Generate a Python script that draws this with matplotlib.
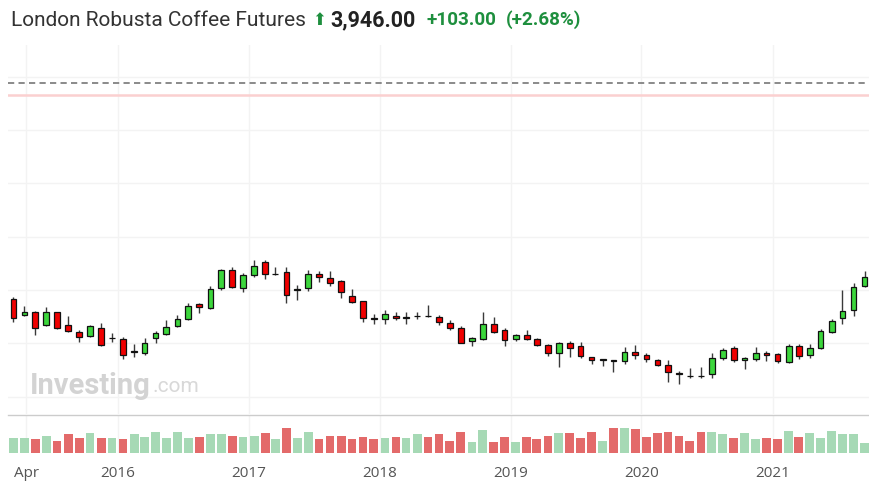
import numpy as np
import pandas as pd
import matplotlib
matplotlib.use("Agg")
import matplotlib.pyplot as plt
import matplotlib.dates as mdates

# monthly candles, Mar 2015 .. Sep 2021
months = pd.date_range("2015-03-01", periods=79, freq="MS") + pd.Timedelta(days=14)

opens = [3780, 3665, 3685, 3590, 3683, 3585, 3537, 3507, 3567, 3488,
         3482, 3385, 3380, 3490, 3518, 3580, 3630, 3747, 3713, 3865,
         3998, 3865, 3960, 4058, 3968, 3987, 3853, 3867, 3968, 3942,
         3917, 3803, 3765, 3639, 3630, 3657, 3643, 3653, 3657, 3650,
         3602, 3567, 3465, 3480, 3593, 3548, 3480, 3512, 3482, 3435,
         3380, 3455, 3428, 3345, 3328, 3325, 3317, 3383, 3362, 3325,
         3290, 3224, 3207, 3206, 3218, 3342, 3417, 3325, 3332, 3380,
         3368, 3308, 3432, 3360, 3417, 3535, 3638, 3702, 3880]
highs = [3795, 3732, 3692, 3725, 3687, 3657, 3548, 3587, 3602, 3525,
         3495, 3443, 3488, 3545, 3623, 3660, 3752, 3752, 3878, 4010,
         4020, 3975, 4075, 4075, 4025, 4025, 3888, 4000, 3992, 3992,
         3922, 3855, 3770, 3668, 3698, 3687, 3687, 3687, 3735, 3660,
         3623, 3582, 3497, 3687, 3645, 3563, 3518, 3550, 3492, 3447,
         3458, 3465, 3458, 3350, 3335, 3327, 3420, 3440, 3378, 3332,
         3327, 3245, 3263, 3272, 3375, 3417, 3430, 3345, 3420, 3392,
         3375, 3447, 3443, 3447, 3555, 3632, 3852, 3905, 3995]
lows = [3608, 3653, 3512, 3582, 3560, 3535, 3460, 3497, 3432, 3458,
        3330, 3345, 3360, 3450, 3512, 3572, 3623, 3675, 3708, 3850,
        3863, 3837, 3950, 3932, 3962, 3755, 3775, 3845, 3912, 3882,
        3792, 3755, 3612, 3597, 3597, 3625, 3597, 3635, 3650, 3587,
        3552, 3450, 3430, 3475, 3530, 3432, 3467, 3475, 3432, 3357,
        3275, 3350, 3342, 3295, 3278, 3233, 3295, 3330, 3308, 3282,
        3158, 3147, 3188, 3188, 3192, 3323, 3310, 3260, 3317, 3317,
        3305, 3302, 3330, 3342, 3408, 3525, 3595, 3655, 3875]
closes = [3638, 3685, 3565, 3683, 3565, 3545, 3500, 3580, 3437, 3492,
          3362, 3389, 3455, 3527, 3575, 3632, 3732, 3720, 3860, 3998,
          3873, 3960, 4032, 3968, 3972, 3812, 3857, 3970, 3950, 3905,
          3833, 3758, 3637, 3635, 3668, 3637, 3647, 3657, 3652, 3612,
          3567, 3455, 3492, 3593, 3537, 3473, 3512, 3480, 3437, 3380,
          3452, 3417, 3355, 3323, 3332, 3321, 3383, 3362, 3335, 3288,
          3233, 3220, 3205, 3203, 3342, 3398, 3325, 3340, 3380, 3360,
          3315, 3432, 3353, 3417, 3540, 3620, 3695, 3875, 3946]
volume = [15000, 15000, 14000, 17600, 12600, 19000, 15000, 20000, 15000, 15000,
          14000, 19000, 16000, 21000, 15000, 21000, 15000, 16000, 19000, 19000,
          17600, 16000, 17600, 20000, 14000, 25000, 15000, 21000, 14000, 17600,
          17600, 14000, 16000, 14000, 15000, 16000, 15000, 19000, 16000, 19000,
          12600, 21000, 11000, 23300, 11000, 16000, 11000, 16000, 14000, 17600,
          20000, 20000, 15000, 21000, 12600, 25000, 25000, 24000, 16000, 20000,
          21000, 17600, 12600, 21000, 21000, 19000, 15000, 20000, 14000, 15000,
          14000, 22300, 16000, 20000, 15000, 22300, 19000, 19000, 10000]

tick_dates = ["2015-04-20", "2016-01-01", "2017-01-01", "2018-01-01",
              "2019-01-01", "2020-01-01", "2021-01-01"]
tick_labels = ["Apr", "2016", "2017", "2018", "2019", "2020", "2021"]

last_price = "3,946.00"
change = "+103.00"
change_pct = "(+2.68%)"
dashed_level = 5402
red_level = 5312

UP = "#3cd63c"
DOWN = "#f00000"
VOL_UP = "#a6d9b5"
VOL_DOWN = "#e36a6a"
GRID = "#f3f3f3"
GREEN_TXT = "#1e8f3e"

x = mdates.date2num(months.to_pydatetime())
o = np.array(opens, float)
h = np.array(highs, float)
l = np.array(lows, float)
c = np.array(closes, float)
v = np.array(volume, float)

fig = plt.figure(figsize=(8.7, 4.92), dpi=100)
W, H = 870, 492
ax = fig.add_axes([8 / W, 1 - 414 / H, 862 / W, 369 / H])
axv = fig.add_axes([8 / W, 1 - 453.3 / H, 862 / W, 38.3 / H], sharex=ax)

# candles
body_col = [UP if cc >= oo else DOWN for oo, cc in zip(o, c)]
ax.vlines(x, l, h, color="#3a3a3a", lw=1.0, zorder=2)
body_h = np.maximum(np.abs(c - o), 3)
ax.bar(x, body_h, bottom=np.minimum(o, c), width=16, color=body_col,
       edgecolor="#111111", linewidth=0.9, zorder=3)

ax.axhline(dashed_level, color="#8a8a8a", lw=1.4, ls=(0, (3.2, 2.2)), zorder=4)
ax.axhline(red_level, color="#fbd0d0", lw=1.8, zorder=4)

ax.set_ylim(2920, 5688)
ax.set_yticks(np.arange(3050, 5500, 400))
ax.set_xlim(mdates.date2num(pd.Timestamp("2015-02-28")),
            mdates.date2num(pd.Timestamp("2021-09-30")))
ax.grid(True, color=GRID, lw=1, zorder=0)
ax.tick_params(left=False, bottom=False, labelleft=False, labelbottom=False)
for s in ax.spines.values():
    s.set_visible(False)

# volume
prev = np.concatenate([[c[0] - 1], c[:-1]])
vol_col = [VOL_UP if cc >= pc else VOL_DOWN for cc, pc in zip(c, prev)]
axv.bar(x, v, width=24.5, color=vol_col, zorder=3)
axv.set_ylim(0, 38300)
axv.set_xticks(mdates.date2num(pd.to_datetime(tick_dates).to_pydatetime()))
axv.set_xticklabels(tick_labels)
axv.tick_params(axis="x", length=0, pad=9, labelsize=11, labelcolor="#555555")
axv.tick_params(left=False, labelleft=False)
axv.grid(True, axis="x", color=GRID, lw=1, zorder=0)
for name, s in axv.spines.items():
    s.set_visible(name == "top")
axv.spines["top"].set_color("#cccccc")
axv.spines["top"].set_linewidth(1.0)
for lab in axv.get_xticklabels():
    lab.set_fontfamily("Open Sans")

# watermark
fig.text(30 / W, 1 - 386 / H, "Investing", fontsize=21, fontweight="bold",
         color="#d3d3d3", family="Roboto", va="center", ha="left")
fig.text(153 / W, 1 - 387 / H, ".com", fontsize=15, color="#d8d8d8",
         family="Roboto", va="center", ha="left")

# header
hy = 1 - 20 / H
fig.text(11 / W, hy, "London Robusta Coffee Futures", fontsize=15,
         color="#333333", family="Roboto", va="center", ha="left")
fig.text(319 / W, hy, "\u2b06", fontsize=12, color=GREEN_TXT,
         family="DejaVu Sans", va="center", ha="center")
fig.text(330 / W, hy, last_price, fontsize=15.5, fontweight="bold",
         color="#222222", family="Roboto", va="center", ha="left")
fig.text(427 / W, hy, change, fontsize=13.6, fontweight="bold",
         color=GREEN_TXT, family="Roboto", va="center", ha="left")
fig.text(506 / W, hy, change_pct, fontsize=13.6, fontweight="bold",
         color=GREEN_TXT, family="Roboto", va="center", ha="left")

fig.savefig("out.png", dpi=100, facecolor="white")
